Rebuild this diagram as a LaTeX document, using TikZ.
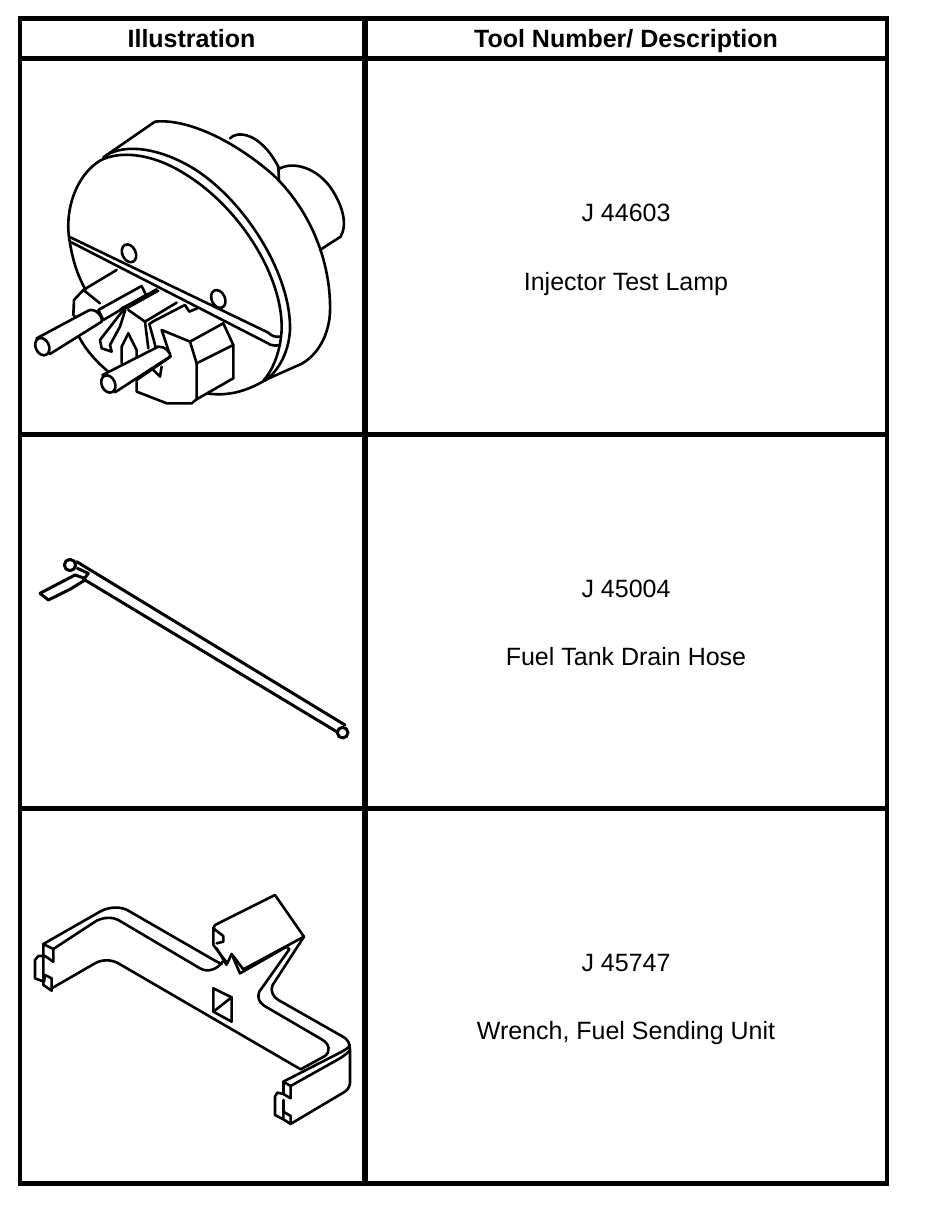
\documentclass[tikz,border=0pt]{standalone}
\usepackage{fontspec}
\setmainfont{Liberation Sans}
\usetikzlibrary{positioning}
\usetikzlibrary{calc}

\begin{document}
\begin{tikzpicture}[x=1pt, y=-1pt]
  \useasboundingbox (0,0) rectangle (928,1206);
  \tikzset{HeadStyle/.style = {anchor=base, inner sep=0pt, font=\fontsize{25}{30}\selectfont\bfseries}}
  \tikzset{TextStyle/.style = {anchor=base, inner sep=0pt, font=\fontsize{25}{30}\selectfont}}
  \tikzset{RuleStyle/.style = {line width=5pt}}
  \tikzset{SideStyle/.style = {line width=3.6pt}}
  \tikzset{InkStyle/.style = {line width=2.6pt, line join=round, line cap=round}}
  \tikzset{PartStyle/.style = {InkStyle, fill=white}}
  \tikzset{ZoomStyle/.style = {x=0.3333pt, y=-0.3333pt}}

  % table rules
  \draw[RuleStyle] (18,18.5) -- (888.8,18.5);
  \draw[RuleStyle] (18,59) -- (888.8,59);
  \draw[RuleStyle] (18,434.5) -- (888.8,434.5);
  \draw[RuleStyle] (18,808.5) -- (888.8,808.5);
  \draw[RuleStyle] (18,1183.5) -- (888.8,1183.5);
  \draw[SideStyle] (19.8,16) -- (19.8,1186);
  \draw[SideStyle] (887,16) -- (887,1186);
  \draw[RuleStyle, line width=5.6pt] (365,16) -- (365,1186);

  % texts
  \node(head1)[HeadStyle] at (191.5,47.5){Illustration};
  \node(head2)[HeadStyle] at (626,47.5){Tool Number/ Description};
  \node(num1)[TextStyle] at (626,222){J 44603};
  \node(name1)[TextStyle] at (626,290){Injector Test Lamp};
  \node(num2)[TextStyle] at (626,597){J 45004};
  \node(name2)[TextStyle] at (626,665){Fuel Tank Drain Hose};
  \node(num3)[TextStyle] at (626,971){J 45747};
  \node(name3)[TextStyle] at (626,1039){Wrench, Fuel Sending Unit};

  % test lamp
  \begin{scope}[shift={(20,100)}, ZoomStyle]
    \draw[InkStyle] (630,115) .. controls (650,92) and (720,95) .. (775,200) -- (777,240);
    \draw[InkStyle] (775,208) .. controls (810,185) and (880,195) .. (930,260) .. controls (965,310) and (985,370) .. (962,410) -- (900,450);
    \draw[InkStyle] (250,172) -- (405,65) .. controls (500,55) and (640,120) .. (760,225) .. controls (880,340) and (935,500) .. (930,640) .. controls (925,720) and (880,780) .. (830,798) -- (740,838);
    \draw[InkStyle] (240,182) .. controls (170,225) and (130,330) .. (150,430) .. controls (160,490) and (175,530) .. (197,570);
    \draw[InkStyle] (240,182) .. controls (300,150) and (400,160) .. (500,225) .. controls (660,325) and (790,530) .. (785,690) .. controls (782,750) and (760,810) .. (730,842);
    \draw[InkStyle] (260,165) .. controls (320,130) and (420,145) .. (520,205) .. controls (680,305) and (815,530) .. (810,690) .. controls (807,750) and (780,810) .. (735,842);
    \draw[InkStyle] (178,712) .. controls (200,755) and (235,790) .. (268,818);
    \draw[InkStyle] (560,880) .. controls (620,890) and (680,875) .. (740,838);
    % strip and holes
    \draw[InkStyle] (147,410) -- (745,698) .. controls (755,708) and (765,712) .. (780,710);
    \draw[InkStyle] (152,426) -- (740,728) .. controls (755,738) and (765,738) .. (780,735);
    \draw[InkStyle, rotate around={25:(327,460)}] (327,460) ellipse (20 and 28);
    \draw[InkStyle, rotate around={25:(595,597)}] (595,597) ellipse (20 and 28);
    % plug body
    \draw[InkStyle] (290,510) -- (190,570) -- (162,600) -- (160,645) -- (180,665);
    \draw[InkStyle] (190,570) -- (240,610);
    \draw[PartStyle] (235,630) -- (365,558) -- (378,585) -- (250,660) -- cycle;
    \draw[InkStyle] (300,630) -- (410,568);
    \draw[InkStyle] (305,625) -- (405,575);
    \draw[InkStyle] (320,625) -- (415,572);
    % clip
    \draw[PartStyle] (310,630) -- (240,720) -- (245,745) -- (275,755) -- (270,735) -- (300,680) -- (316,630);
    \draw[InkStyle] (325,630) -- (375,665) -- (385,745);
    \draw[InkStyle] (375,665) -- (470,608);
    \draw[InkStyle] (388,672) -- (400,664) -- (495,615) -- (508,635) -- (532,625);
    \draw[InkStyle] (388,672) -- (408,745);
    \draw[InkStyle] (325,700) -- (305,740) -- (305,790);
    \draw[InkStyle] (325,700) -- (350,750) -- (350,775);
    % front block
    \draw[PartStyle] (350,840) -- (350,875) -- (440,910) -- (515,910) -- (530,898) -- (640,835) -- (640,735) -- (610,670) -- (510,725) -- (425,690) -- (440,735) -- (452,770) -- cycle;
    \draw[InkStyle] (510,725) -- (530,790) -- (530,898);
    \draw[InkStyle] (530,790) -- (640,735);
    \draw[InkStyle] (395,805) -- (420,830) -- (425,800);
    % pins
    \draw[PartStyle] (50,715) -- (205,632) .. controls (225,622) and (250,650) .. (245,665) -- (90,762) -- cycle;
    \draw[PartStyle, rotate around={25:(67,740)}] (67,740) ellipse (20 and 27);
    \draw[PartStyle] (248,825) -- (415,740) .. controls (435,738) and (455,760) .. (450,770) -- (285,877) -- cycle;
    \draw[PartStyle, rotate around={25:(265,852)}] (265,852) ellipse (20 and 27);
  \end{scope}

  % drain hose
  \begin{scope}[shift={(20,540)}, ZoomStyle]
    \draw[InkStyle, line width=3pt] (170,65) -- (975,555);
    \draw[InkStyle, line width=3pt] (195,120) -- (950,575);
    \draw[PartStyle, line width=3pt] (968,578) circle (16);
    \draw[InkStyle, line width=3pt] (60,160) -- (165,105);
    \draw[InkStyle, line width=3pt] (85,180) -- (150,148) -- (195,120);
    \draw[InkStyle, line width=3pt] (60,160) -- (85,180);
    \draw[InkStyle, line width=3pt] (165,105) -- (195,115);
    \draw[InkStyle, line width=3pt] (172,85) -- (205,100) -- (190,120);
    \draw[PartStyle, line width=3pt] (150,75) circle (17);
  \end{scope}

  % wrench
  \begin{scope}[shift={(20,880)}, ZoomStyle]
    \draw[InkStyle] (70,192) -- (240,95) .. controls (270,78) and (305,80) .. (325,92) -- (585,242) -- (605,252);
    \draw[InkStyle] (100,207) -- (230,122) .. controls (255,110) and (280,112) .. (295,120) -- (540,265) .. controls (565,280) and (595,265) .. (608,245);
    \draw[InkStyle] (70,192) -- (100,207) -- (100,245) -- (75,228) -- (55,228) -- (45,240) -- (45,295) -- (72,305) -- (75,285) -- (95,295) -- (95,332) -- (70,315) -- (70,192);
    \draw[InkStyle] (95,325) -- (225,250) .. controls (245,238) and (275,238) .. (295,250) -- (842,568);
    % square hole
    \draw[InkStyle] (580,325) -- (635,352) -- (635,425) -- (580,395) -- cycle;
    \draw[InkStyle] (580,395) -- (635,352);
    % upper tab
    \draw[InkStyle] (585,135) -- (765,45) -- (852,170) -- (670,268) -- (635,222) -- (622,250) -- (580,195) -- (580,145) -- (610,168) -- (610,185) -- (590,190);
    \draw[InkStyle] (585,135) -- (580,145);
    \draw[InkStyle] (635,222) -- (660,280) -- (800,200) -- (808,208) -- (718,335) .. controls (712,350) and (715,365) .. (732,377) -- (905,478) .. controls (930,492) and (932,515) .. (915,528) -- (842,568);
    \draw[InkStyle] (590,205) -- (620,255);
    \draw[InkStyle] (852,170) -- (758,315) .. controls (750,335) and (760,350) .. (775,360) -- (965,468) .. controls (985,478) and (990,490) .. (990,510) -- (990,610) .. controls (988,625) and (980,632) .. (970,638) -- (815,730);
    \draw[InkStyle] (790,605) -- (960,518) .. controls (975,510) and (985,505) .. (990,495);
    % right end
    \draw[InkStyle] (790,605) -- (812,618) -- (812,655) -- (790,642) -- (772,638) -- (765,650) -- (765,705) -- (790,718) -- (790,695) -- (812,708) -- (812,732) -- (790,718);
    \draw[InkStyle] (790,605) -- (790,642);
    \draw[InkStyle] (790,660) -- (790,695);
    \draw[InkStyle] (812,618) -- (960,535) .. controls (975,525) and (985,518) .. (990,510);
  \end{scope}
\end{tikzpicture}
\end{document}
